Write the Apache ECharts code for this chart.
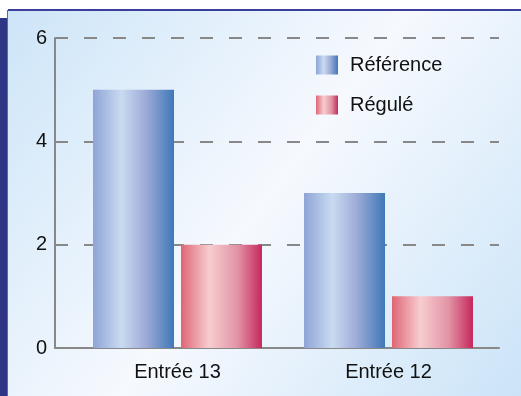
<!DOCTYPE html>
<html><head><meta charset="utf-8">
<script src="https://cdn.jsdelivr.net/npm/echarts@6/dist/echarts.min.js"></script>
<style>html,body{margin:0;padding:0;background:#fff}#c{width:521px;height:396px}</style>
</head><body><div id="c"></div>
<script>
const categories = ['Entrée 13', 'Entrée 12'];
const seriesNames = ['Référence', 'Régulé'];
const referenceValues = [5, 3];
const reguleValues = [2, 1];
const yTicks = [0, 2, 4, 6];

const FONT = 'Liberation Sans';
const blueGrad = {type:'linear',x:0,y:0,x2:1,y2:0,colorStops:[
  {offset:0,color:'#8ea4d6'},{offset:0.35,color:'#c9dbf1'},{offset:0.65,color:'#9eabd7'},{offset:1,color:'#3f78b8'}]};
const redGrad = {type:'linear',x:0,y:0,x2:1,y2:0,colorStops:[
  {offset:0,color:'#de6675'},{offset:0.35,color:'#f7cdd0'},{offset:0.7,color:'#e293a5'},{offset:1,color:'#c5285d'}]};

const chart = echarts.init(document.getElementById('c'), null, {renderer:'canvas'});
chart.setOption({
  animation:false,
  graphic:[
    {type:'rect',z:-10,shape:{x:8,y:10,width:513,height:386},style:{fill:{type:'linear',x:0,y:0,x2:1,y2:1,colorStops:[
      {offset:0,color:'#cde5f8'},{offset:0.5,color:'#f6f9fe'},{offset:1,color:'#cbe4f8'}]}}},
    {type:'rect',z:-9,shape:{x:0,y:18,width:8,height:378},style:{fill:'#2e3585'}},
    {type:'rect',z:-9,shape:{x:8,y:9,width:513,height:2},style:{fill:'#3b3f9c'}},
    {type:'rect',z:-9,shape:{x:7,y:10,width:1,height:386},style:{fill:'#5a6aa8'}}
  ],
  grid:[
    {left:72,right:27,top:38,bottom:48},
    {left:55,right:22,top:38,bottom:48}
  ],
  legend:{orient:'vertical',left:311,top:50,itemWidth:22,itemHeight:19,itemGap:20,icon:'rect',
    textStyle:{fontFamily:FONT,fontSize:20,color:'#111',padding:[0,0,0,7]},
    data:seriesNames},
  xAxis:[
    {type:'category',gridIndex:0,data:categories,axisLine:{show:false},axisTick:{show:false},
      axisLabel:{fontFamily:FONT,fontSize:20,color:'#111',margin:14}},
    {type:'value',gridIndex:1,min:0,max:1,axisLine:{show:true,lineStyle:{color:'#888',width:2}},
      axisTick:{show:false},axisLabel:{show:false},splitLine:{show:false}}
  ],
  yAxis:[
    {type:'value',gridIndex:0,min:yTicks[0],max:yTicks[yTicks.length-1],interval:2,offset:17,
      axisLine:{show:true,lineStyle:{color:'#888',width:2}},axisTick:{show:false},
      axisLabel:{fontFamily:FONT,fontSize:20,color:'#111',margin:8},splitLine:{show:false}},
    {type:'value',gridIndex:1,min:yTicks[0],max:yTicks[yTicks.length-1],interval:2,
      axisLine:{show:false},axisTick:{show:false},axisLabel:{show:false},
      splitLine:{show:true,lineStyle:{color:'#888',width:2,type:[13,16]}}}
  ],
  series:[
    {name:seriesNames[0],type:'bar',xAxisIndex:0,yAxisIndex:0,data:referenceValues,barWidth:81,barGap:'8.6%',
      itemStyle:{color:blueGrad},z:5},
    {name:seriesNames[1],type:'bar',xAxisIndex:0,yAxisIndex:0,data:reguleValues,barWidth:81,barGap:'8.6%',
      itemStyle:{color:redGrad},z:5}
  ]
});
</script></body></html>
